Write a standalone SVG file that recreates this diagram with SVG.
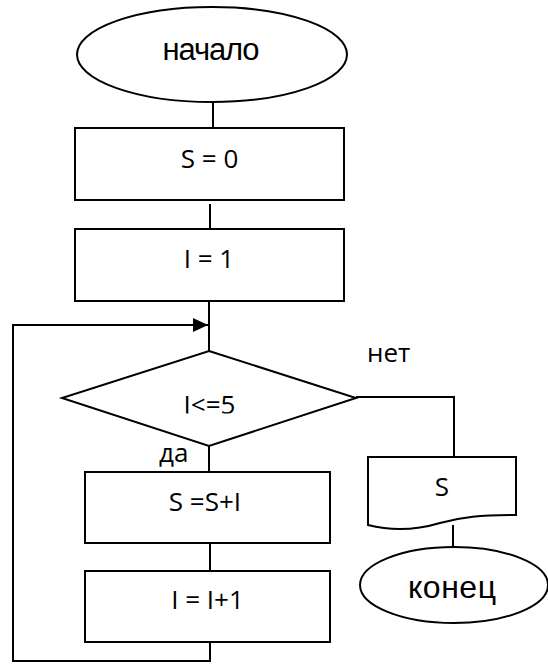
<svg xmlns="http://www.w3.org/2000/svg" width="548" height="664" viewBox="0 0 548 664">
<style>
.shape{fill:#fff;stroke:#000;stroke-width:2}
.conn{fill:none;stroke:#000;stroke-width:2}
.t{font-family:"Open Sans","Liberation Sans",sans-serif;font-size:26px;fill:#000}
.big{font-family:"Liberation Sans",Arial,sans-serif;fill:#000}
</style>
<defs>
<marker id="arr" markerWidth="16" markerHeight="14" refX="15" refY="7" orient="auto" markerUnits="userSpaceOnUse">
<path d="M0,0 L15,7 L0,14 z" fill="#000"/>
</marker>
<clipPath id="clipD"><rect x="0" y="330" width="548" height="83.5"/></clipPath>
</defs>
<rect width="548" height="664" fill="#fff"/>
<g id="connectors">
<path class="conn" d="M213,102 V128"/>
<path class="conn" d="M210,204 V229"/>
<path class="conn" d="M209,301 V351"/>
<path class="conn" d="M209,446 V472"/>
<path class="conn" d="M210,543 V571"/>
<path class="conn" d="M210,642 V661 H13 V325 H208" marker-end="url(#arr)"/>
<path class="conn" d="M356,397 H454 V457"/>
<path class="conn" d="M453,525 V547"/>
<text class="t" x="367" y="362">нет</text>
<text class="t" x="159" y="462">да</text>
</g>
<g id="start">
<ellipse class="shape" cx="212" cy="54.5" rx="135" ry="47.5"/>
<text class="big" x="211" y="60" font-size="31" text-anchor="middle" textLength="97">начало</text>
</g>
<g id="s0">
<rect class="shape" x="75" y="128" width="269" height="72"/>
<text class="t" x="209.5" y="168" text-anchor="middle">S = 0</text>
</g>
<g id="i1">
<rect class="shape" x="75" y="229" width="269" height="72"/>
<text class="t" x="209" y="268" text-anchor="middle">I = 1</text>
</g>
<g id="cond">
<polygon class="shape" points="209,351 356,398 209,446 62,398"/>
<text class="t" x="209.5" y="414" text-anchor="middle" clip-path="url(#clipD)">I&lt;=5</text>
</g>
<g id="sum">
<rect class="shape" x="85" y="472" width="245" height="71"/>
<text class="t" x="205" y="511" text-anchor="middle">S =S+I</text>
</g>
<g id="inc">
<rect class="shape" x="85" y="571" width="245" height="71"/>
<text class="t" x="207.5" y="609" text-anchor="middle">I = I+1</text>
</g>
<g id="output">
<path class="shape" d="M368,457 H516 V515 C480,515 462,517 440,523 C420,529 395,532 368,525 Z"/>
<text class="t" x="442" y="496" text-anchor="middle">S</text>
</g>
<g id="end">
<ellipse class="shape" cx="454" cy="585" rx="94" ry="38"/>
<text class="big" x="452" y="598" font-size="32" text-anchor="middle" textLength="88">конец</text>
</g>
</svg>
